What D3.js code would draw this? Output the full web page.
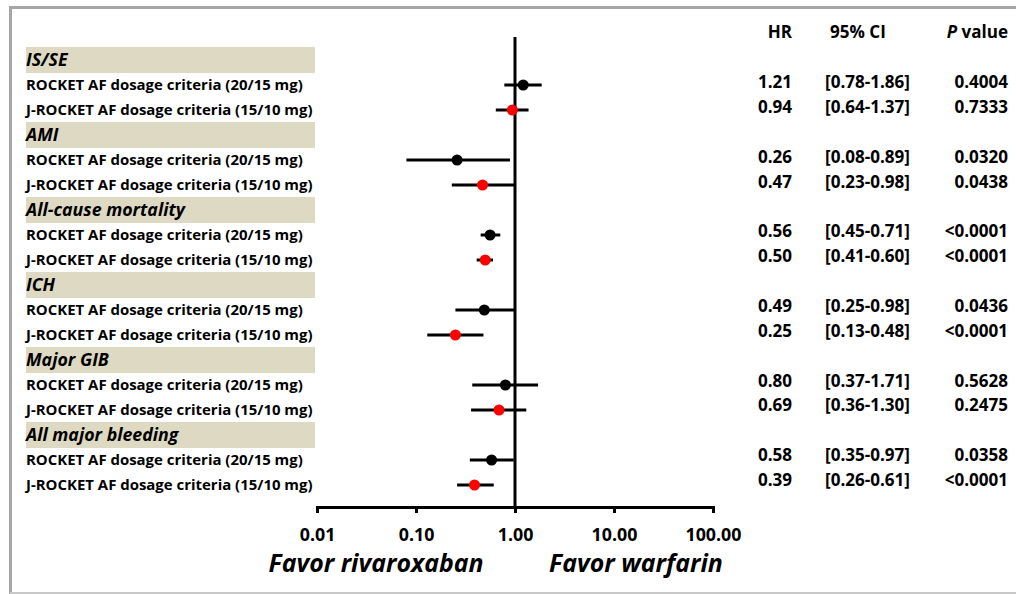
<!DOCTYPE html>
<html>
<head>
<meta charset="utf-8">
<script src="https://cdn.jsdelivr.net/npm/d3@7"></script>
<style>
  body { margin: 0; background: #fff; }
  svg { display: block; font-family: "Open Sans", sans-serif; }
</style>
</head>
<body>
<svg width="1016" height="594"></svg>
<script>
// outcomes and the two dosage criteria
const groups = ["IS/SE", "AMI", "All-cause mortality", "ICH", "Major GIB", "All major bleeding"];
const criteria = ["ROCKET AF dosage criteria (20/15 mg)", "J-ROCKET AF dosage criteria (15/10 mg)"];

// ROCKET AF dosage criteria (20/15 mg)
const rocketHR = [1.21, 0.26, 0.56, 0.49, 0.80, 0.58];
const rocketLo = [0.78, 0.08, 0.45, 0.25, 0.37, 0.35];
const rocketHi = [1.86, 0.89, 0.71, 0.98, 1.71, 0.97];
const rocketP = ["0.4004", "0.0320", "<0.0001", "0.0436", "0.5628", "0.0358"];

// J-ROCKET AF dosage criteria (15/10 mg)
const jrocketHR = [0.94, 0.47, 0.50, 0.25, 0.69, 0.39];
const jrocketLo = [0.64, 0.23, 0.41, 0.13, 0.36, 0.26];
const jrocketHi = [1.37, 0.98, 0.60, 0.48, 1.30, 0.61];
const jrocketP = ["0.7333", "0.0438", "<0.0001", "<0.0001", "0.2475", "<0.0001"];

const tickValues = [0.01, 0.1, 1, 10, 100];

const svg = d3.select("svg");

// pick a font size so a sample string is as wide as in the original
function fitSize(sample, width, style) {
    const t = svg.append("text")
        .attr("font-size", 20)
        .attr("font-weight", "bold")
        .attr("font-style", style || "normal")
        .text(sample);
    const w = t.node().getComputedTextLength();
    t.remove();
    return 20 * width / w;
}
const labelSize = fitSize(criteria[0], 277);
const headerSize = fitSize("All-cause mortality", 159, "italic");
const tickSize = fitSize("100.00", 56);
const tableSize = fitSize("[0.78-1.86]", 85);
const favorSize = fitSize("Favor rivaroxaban", 215, "italic");

// frame
svg.append("path")
    .attr("d", "M10.5,594 V7.5 H1016")
    .attr("fill", "none")
    .attr("stroke", "#a6a6a6")
    .attr("stroke-width", 3);
svg.append("line")
    .attr("x1", 10).attr("x2", 1016).attr("y1", 593).attr("y2", 593)
    .attr("stroke", "#c8c8c8").attr("stroke-width", 2);

// build the rows: header then the two criteria per outcome
const rows = [];
groups.forEach((g, i) => {
    rows.push({ id: "h" + i, type: "header", label: g });
    rows.push({ id: "r" + i, type: "rocket", label: criteria[0], hr: rocketHR[i], lo: rocketLo[i], hi: rocketHi[i], p: rocketP[i] });
    rows.push({ id: "j" + i, type: "jrocket", label: criteria[1], hr: jrocketHR[i], lo: jrocketLo[i], hi: jrocketHi[i], p: jrocketP[i] });
});

const y = d3.scalePoint().domain(rows.map(d => d.id)).range([60, 485]);
const x = d3.scaleLog().domain([0.01, 100]).range([317, 713]);
// the table on the right drifts a little upwards relative to the labels
const tableY = d3.scaleLinear().domain([60, 485]).range([57, 480]);

const axisY = 507;

// header bands
svg.selectAll(".band")
    .data(rows.filter(d => d.type === "header"))
    .enter()
    .append("rect")
    .attr("x", 26)
    .attr("y", d => y(d.id) - 13)
    .attr("width", 289)
    .attr("height", 26)
    .attr("fill", "#ddd9c3");

// row labels
svg.selectAll(".label")
    .data(rows)
    .enter()
    .append("text")
    .attr("x", 26)
    .attr("y", d => y(d.id))
    .attr("dy", "0.36em")
    .attr("font-weight", "bold")
    .attr("font-style", d => d.type === "header" ? "italic" : "normal")
    .attr("font-size", d => d.type === "header" ? headerSize : labelSize)
    .attr("fill", "#000")
    .text(d => d.label);

// reference line at HR = 1
svg.append("line")
    .attr("x1", x(1)).attr("x2", x(1))
    .attr("y1", 37).attr("y2", axisY)
    .attr("stroke", "#000")
    .attr("stroke-width", 3);

const data = rows.filter(d => d.type !== "header");

// confidence intervals
svg.selectAll(".ci")
    .data(data)
    .enter()
    .append("line")
    .attr("x1", d => x(d.lo))
    .attr("x2", d => x(d.hi))
    .attr("y1", d => y(d.id))
    .attr("y2", d => y(d.id))
    .attr("stroke", "#000")
    .attr("stroke-width", 3);

// point estimates
svg.selectAll(".pt")
    .data(data)
    .enter()
    .append("circle")
    .attr("cx", d => x(d.hr))
    .attr("cy", d => y(d.id))
    .attr("r", 5.5)
    .attr("fill", d => d.type === "rocket" ? "#000" : "#ff0000");

// x axis
const axis = svg.append("g")
    .attr("transform", `translate(0,${axisY})`)
    .call(d3.axisBottom(x)
        .tickValues(tickValues)
        .tickFormat(d3.format(".2f"))
        .tickSize(6)
        .tickSizeOuter(6)
        .tickPadding(15));
axis.select(".domain").attr("stroke-width", 3);
axis.selectAll(".tick line").attr("stroke-width", 3);
axis.selectAll(".tick text")
    .attr("font-family", "'Open Sans', sans-serif")
    .attr("font-size", tickSize)
    .attr("font-weight", "bold")
    .attr("fill", "#000");

// favour labels
svg.append("text")
    .attr("x", 376).attr("y", 572)
    .attr("text-anchor", "middle")
    .attr("font-size", favorSize)
    .attr("font-weight", "bold")
    .attr("font-style", "italic")
    .text("Favor rivaroxaban");
svg.append("text")
    .attr("x", 636).attr("y", 572)
    .attr("text-anchor", "middle")
    .attr("font-size", favorSize)
    .attr("font-weight", "bold")
    .attr("font-style", "italic")
    .text("Favor warfarin");

// table header
const head = svg.append("g").attr("font-size", tableSize).attr("font-weight", "bold");
head.append("text").attr("x", 792).attr("y", 32).attr("dy", "0.36em").attr("text-anchor", "end").text("HR");
head.append("text").attr("x", 858).attr("y", 32).attr("dy", "0.36em").attr("text-anchor", "middle").text("95% CI");
const pHead = head.append("text").attr("x", 1008).attr("y", 32).attr("dy", "0.36em").attr("text-anchor", "end");
pHead.append("tspan").attr("font-style", "italic").text("P");
pHead.append("tspan").text(" value");

// table values
const table = svg.append("g").attr("font-size", tableSize).attr("font-weight", "bold");
table.selectAll(".hr")
    .data(data)
    .enter()
    .append("text")
    .attr("x", 792)
    .attr("y", d => tableY(y(d.id)))
    .attr("dy", "0.36em")
    .attr("text-anchor", "end")
    .text(d => d.hr.toFixed(2));
table.selectAll(".ci")
    .data(data)
    .enter()
    .append("text")
    .attr("x", 825)
    .attr("y", d => tableY(y(d.id)))
    .attr("dy", "0.36em")
    .text(d => `[${d.lo.toFixed(2)}-${d.hi.toFixed(2)}]`);
table.selectAll(".p")
    .data(data)
    .enter()
    .append("text")
    .attr("x", 1008)
    .attr("y", d => tableY(y(d.id)))
    .attr("dy", "0.36em")
    .attr("text-anchor", "end")
    .text(d => d.p);
</script>
</body>
</html>
